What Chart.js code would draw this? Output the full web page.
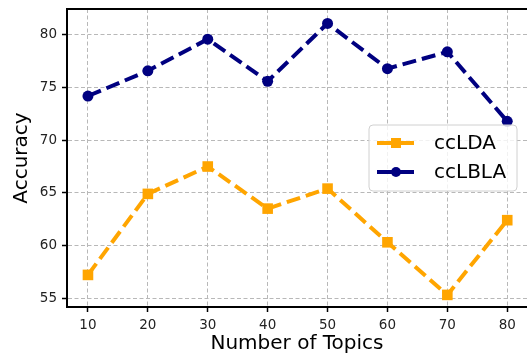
<!DOCTYPE html>
<html>
<head>
<meta charset="utf-8">
<script src="https://cdn.jsdelivr.net/npm/chart.js@4"></script>
<style>
  html, body { margin: 0; padding: 0; background: #fff; overflow: hidden; }
  #wrap { width: 527px; height: 360px; }
</style>
</head>
<body>
<div id="wrap"><canvas id="c" width="527" height="360"></canvas></div>
<script>
// Topic counts on the x axis
const topics = [10, 20, 30, 40, 50, 60, 70, 80];
// Accuracy per model
const ccLDA  = [57.2, 64.9, 67.5, 63.5, 65.4, 60.3, 55.3, 62.4];
const ccLBLA = [74.2, 76.6, 79.6, 75.6, 81.1, 76.8, 78.4, 71.8];
// Tick labels
const xTicks = [10, 20, 30, 40, 50, 60, 70, 80];
const yTicks = [55, 60, 65, 70, 75, 80];

const FONT = "'DejaVu Sans', sans-serif";

// Frame on top edge + legend box inside the plot (matplotlib style)
const framePlugin = {
  id: 'frame',
  afterDraw(chart) {
    const { ctx, chartArea: a } = chart;
    ctx.save();
    ctx.strokeStyle = '#000';
    ctx.lineWidth = 2;
    ctx.beginPath();
    ctx.moveTo(a.left - 1, a.top);
    ctx.lineTo(a.right + 2, a.top);
    ctx.stroke();

    // legend
    const bx = 369, by = 125, bw = 148, bh = 66, r = 4;
    ctx.beginPath();
    ctx.moveTo(bx + r, by);
    ctx.arcTo(bx + bw, by, bx + bw, by + bh, r);
    ctx.arcTo(bx + bw, by + bh, bx, by + bh, r);
    ctx.arcTo(bx, by + bh, bx, by, r);
    ctx.arcTo(bx, by, bx + bw, by, r);
    ctx.closePath();
    ctx.fillStyle = 'rgba(255,255,255,0.8)';
    ctx.fill();
    ctx.strokeStyle = '#d0d0d0';
    ctx.lineWidth = 1;
    ctx.stroke();

    chart.data.datasets.forEach((ds, i) => {
      const y = by + 18 + i * 29;
      ctx.strokeStyle = ds.borderColor;
      ctx.lineWidth = 4;
      ctx.beginPath();
      ctx.moveTo(377, y);
      ctx.lineTo(414, y);
      ctx.stroke();
      ctx.fillStyle = ds.borderColor;
      if (ds.pointStyle === 'rect') {
        ctx.fillRect(391, y - 5, 10, 10);
      } else {
        ctx.beginPath();
        ctx.arc(396, y, 5, 0, Math.PI * 2);
        ctx.fill();
      }
      ctx.fillStyle = '#000';
      ctx.font = '20px ' + FONT;
      ctx.textBaseline = 'middle';
      ctx.textAlign = 'left';
      ctx.fillText(ds.label, 434, y + 1);
    });
    ctx.restore();
  }
};

const gridOpts = {
  color: '#b8b8b8',
  tickBorderDash: [],
  tickColor: '#000',
  tickWidth: 1.5,
  tickLength: 5
};
const borderOpts = { display: true, color: '#000', width: 2, dash: [4, 2.5] };

new Chart(document.getElementById('c'), {
  type: 'line',
  data: {
    datasets: [
      {
        label: 'ccLDA',
        data: topics.map((t, i) => ({ x: t, y: ccLDA[i] })),
        borderColor: '#FFA500',
        backgroundColor: '#FFA500',
        borderWidth: 4,
        borderDash: [14, 6],
        pointStyle: 'rect',
        pointRadius: 7.5,
        pointBorderWidth: 0,
        tension: 0
      },
      {
        label: 'ccLBLA',
        data: topics.map((t, i) => ({ x: t, y: ccLBLA[i] })),
        borderColor: '#000080',
        backgroundColor: '#000080',
        borderWidth: 4,
        borderDash: [14, 6],
        pointStyle: 'circle',
        pointRadius: 5.5,
        pointBorderWidth: 0,
        tension: 0
      }
    ]
  },
  options: {
    responsive: false,
    animation: false,
    layout: { autoPadding: false, padding: { top: 9, right: 0, left: 0, bottom: 0 } },
    plugins: { legend: { display: false }, tooltip: { enabled: false } },
    scales: {
      x: {
        type: 'linear',
        min: 6.5,
        max: 83.3,
        afterBuildTicks: s => { s.ticks = xTicks.map(v => ({ value: v })); },
        afterFit: s => { s.height = 53; s.paddingRight = 0; s.paddingLeft = 0; },
        grid: gridOpts,
        border: borderOpts,
        ticks: { color: '#222', font: { family: FONT, size: 13.5 }, padding: 5, maxRotation: 0 },
        title: { display: true, text: 'Number of Topics', color: '#000', font: { family: FONT, size: 20 }, padding: { top: 6 } }
      },
      y: {
        min: 54.15,
        max: 82.47,
        afterBuildTicks: s => { s.ticks = yTicks.map(v => ({ value: v })); },
        afterFit: s => { s.width = 67; s.paddingTop = 0; s.paddingBottom = 0; },
        grid: gridOpts,
        border: borderOpts,
        ticks: { color: '#222', font: { family: FONT, size: 13.5 }, padding: 5 },
        title: { display: true, text: 'Accuracy', color: '#000', font: { family: FONT, size: 20 }, padding: { top: 10, bottom: 0 } }
      }
    }
  },
  plugins: [framePlugin]
});
</script>
</body>
</html>
